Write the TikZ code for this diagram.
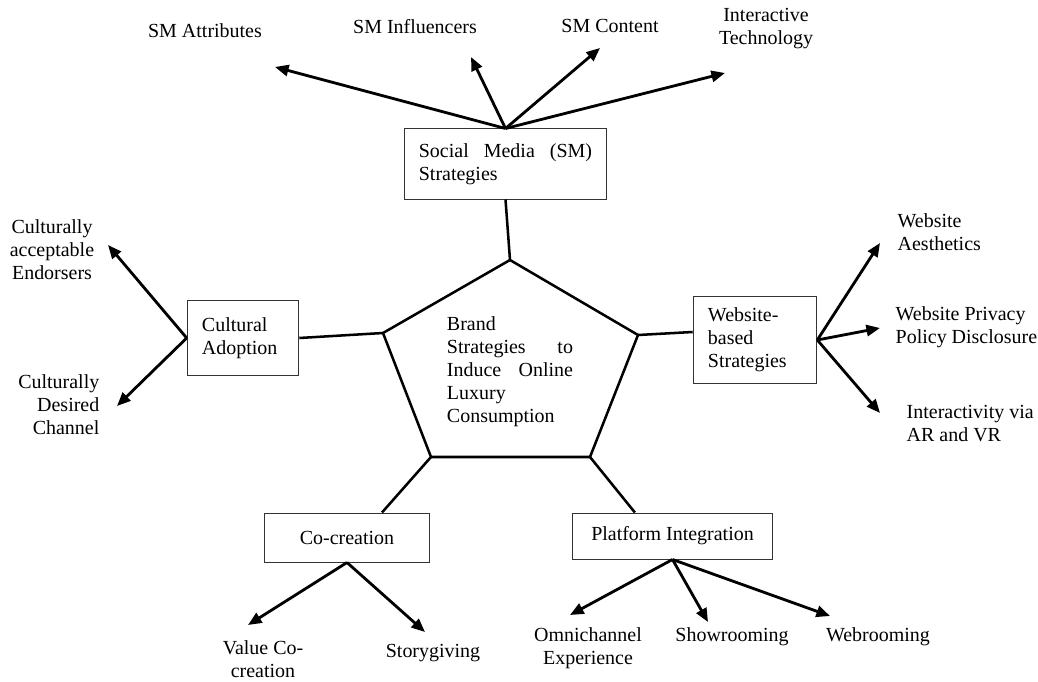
\documentclass[tikz,border=0pt]{standalone}
\usepackage{fontspec}
\setmainfont{Liberation Serif}
\usetikzlibrary{arrows.meta}
\begin{document}
\begin{tikzpicture}
  [x=0.025cm,y=-0.025cm,
   every node/.style={font=\fontsize{14.2}{16.4}\selectfont,inner sep=1pt},
   box/.style={draw=black!80,line width=0.7pt,inner xsep=0.37cm,inner ysep=2pt,align=left},
   link/.style={line width=1.8pt},
   arr/.style={line width=2pt,-{Triangle[length=0.34cm,width=0.28cm]}}]
  \useasboundingbox (0,0) rectangle (1038,682);

  % central pentagon
  \coordinate (p1) at (510,260);
  \coordinate (p2) at (638,335);
  \coordinate (p3) at (590,457);
  \coordinate (p4) at (431,457);
  \coordinate (p5) at (383,333);
  \draw[link,line join=miter] (p1) -- (p2) -- (p3) -- (p4) -- (p5) -- cycle;
  \node[text width=3.15cm,align=left] (core) at (510,372)
    {Brand\\ Strategies\hfill to\\ Induce\hfill Online\\ Luxury\\ Consumption};

  % strategy boxes
  \node[box,text width=4.33cm,minimum height=1.75cm] (sm) at (505.5,164)
    {Social\hfill Media\hfill (SM)\\ Strategies};
  \node[box,text width=2.05cm,minimum height=1.875cm] (ca) at (243,338)
    {Cultural\\ Adoption};
  \node[box,text width=2.35cm,minimum height=2.15cm] (wb) at (755,340)
    {Website-\\ based\\ Strategies};
  \node[box,align=center,minimum width=4.1cm,minimum height=1.225cm] (cc) at (347,537.5)
    {Co-creation};
  \node[box,align=center,minimum width=4.975cm,minimum height=1.15cm] (pi) at (672.5,536)
    {Platform Integration};

  % outer labels
  \node (att) at (205,31) {SM Attributes};
  \node (inf) at (415,27) {SM Influencers};
  \node (con) at (610,26) {SM Content};
  \node[align=center] (itech) at (766,29) {Interactive\\ Technology};
  \node[align=center] (cae) at (52,250) {Culturally\\ acceptable\\ Endorsers};
  \node[align=right,anchor=east] (cdc) at (101,405) {Culturally\\ Desired\\ Channel};
  \node[align=left,anchor=west] (wa) at (896,232) {Website\\ Aesthetics};
  \node[align=left,anchor=west] (wp) at (894,327) {Website Privacy\\ Policy Disclosure};
  \node[align=left,anchor=west] (iv) at (905,424) {Interactivity via\\ AR and VR};
  \node[align=center] (vc) at (263,659) {Value Co-\\ creation};
  \node (sg) at (433,653) {Storygiving};
  \node[align=center] (oe) at (588,648) {Omnichannel\\ Experience};
  \node (sh) at (732,637) {Showrooming};
  \node (wr) at (878,637) {Webrooming};

  % arrow tips
  \coordinate (t1) at (275,67);
  \coordinate (t2) at (471,57);
  \coordinate (t3) at (600,48);
  \coordinate (t4) at (725,73);
  \coordinate (t5) at (108,245);
  \coordinate (t6) at (117,406);
  \coordinate (t7) at (880,243);
  \coordinate (t8) at (880,328);
  \coordinate (t9) at (880,413);
  \coordinate (t10) at (248,625);
  \coordinate (t11) at (425,632);
  \coordinate (t12) at (570,615);
  \coordinate (t13) at (708,622);
  \coordinate (t14) at (830,616);

\path[link,draw]
    (p1) edge (sm.south)
    (p5) edge (ca.east)
    (p2) edge ([yshift=0.2cm]wb.west)
    (p4) edge ([xshift=0.875cm]cc.north)
    (p3) edge ([xshift=-0.94cm]pi.north)
    ;

\path[arr]
    (sm.north) edge (t1)
    (sm.north) edge (t2)
    (sm.north) edge (t3)
    (sm.north) edge (t4)
    (ca.west) edge (t5)
    (ca.west) edge (t6)
    (wb.east) edge (t7)
    (wb.east) edge (t8)
    (wb.east) edge (t9)
    (cc.south) edge (t10)
    (cc.south) edge (t11)
    (pi.south) edge (t12)
    (pi.south) edge (t13)
    (pi.south) edge (t14)
    ;

\end{tikzpicture}
\end{document}
